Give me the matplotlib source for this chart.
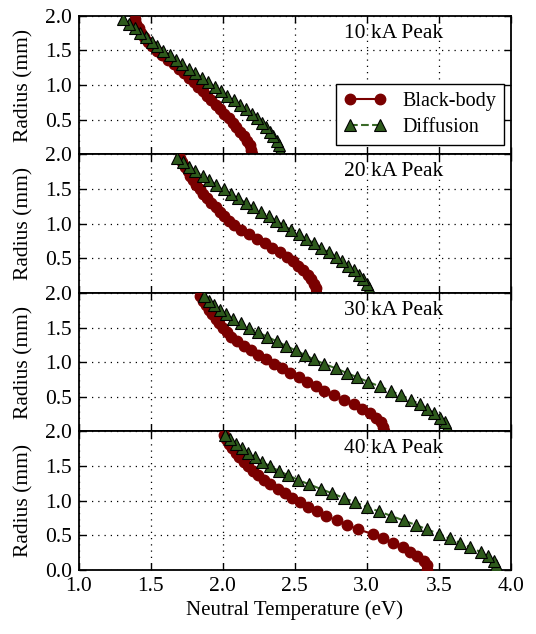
import matplotlib
matplotlib.use("Agg")
import matplotlib.pyplot as plt

plt.rcParams['font.family'] = ['Liberation Serif', 'DejaVu Serif']
plt.rcParams['mathtext.fontset'] = 'stix'

radius = [0.0, 0.065, 0.13, 0.195, 0.26, 0.325, 0.39, 0.455, 0.52, 0.585,
          0.65, 0.715, 0.78, 0.845, 0.91, 0.975, 1.04, 1.105, 1.17, 1.235,
          1.30, 1.365, 1.43, 1.495, 1.56, 1.625, 1.69, 1.755, 1.82, 1.885, 1.95]

panel_titles = ["10 kA Peak", "20 kA Peak", "30 kA Peak", "40 kA Peak"]

bb_10 = [2.20, 2.198, 2.19, 2.17, 2.145, 2.12, 2.095, 2.07, 2.04, 2.01,
         1.98, 1.95, 1.92, 1.89, 1.86, 1.83, 1.80, 1.765, 1.73, 1.695,
         1.66, 1.62, 1.58, 1.545, 1.51, 1.48, 1.455, 1.435, 1.415, 1.40, 1.39]
diff_10 = [2.40, 2.397, 2.39, 2.375, 2.35, 2.325, 2.30, 2.275, 2.24, 2.20,
           2.16, 2.12, 2.075, 2.03, 1.99, 1.945, 1.90, 1.855, 1.81, 1.765,
           1.72, 1.675, 1.63, 1.585, 1.545, 1.505, 1.465, 1.425, 1.39, 1.35, 1.31]

bb_20 = [2.65, 2.645, 2.635, 2.615, 2.59, 2.56, 2.525, 2.485, 2.445, 2.40,
         2.345, 2.29, 2.235, 2.18, 2.125, 2.075, 2.04, 2.01, 1.98, 1.95,
         1.92, 1.89, 1.86, 1.84, 1.815, 1.795, 1.775, 1.755, 1.735, 1.715, 1.70]
diff_20 = [3.02, 3.015, 3.00, 2.975, 2.945, 2.91, 2.87, 2.83, 2.785, 2.735,
           2.685, 2.635, 2.58, 2.53, 2.475, 2.42, 2.37, 2.32, 2.265, 2.21,
           2.16, 2.105, 2.055, 2.005, 1.955, 1.905, 1.86, 1.81, 1.765, 1.725, 1.685]

bb_30 = [3.12, 3.115, 3.10, 3.065, 3.02, 2.97, 2.91, 2.84, 2.77, 2.70,
         2.645, 2.585, 2.53, 2.47, 2.41, 2.355, 2.30, 2.245, 2.195, 2.145,
         2.10, 2.06, 2.03, 2.00, 1.975, 1.95, 1.925, 1.905, 1.88, 1.86, 1.84]
diff_30 = [3.56, 3.555, 3.54, 3.51, 3.47, 3.42, 3.37, 3.31, 3.24, 3.165,
           3.09, 3.01, 2.935, 2.86, 2.785, 2.705, 2.63, 2.57, 2.505, 2.44,
           2.375, 2.31, 2.245, 2.18, 2.125, 2.07, 2.02, 1.98, 1.94, 1.905, 1.87]

bb_40 = [3.42, 3.415, 3.395, 3.35, 3.30, 3.25, 3.18, 3.11, 3.04, 2.94,
         2.865, 2.79, 2.72, 2.655, 2.595, 2.535, 2.48, 2.43, 2.38, 2.33,
         2.285, 2.245, 2.21, 2.175, 2.145, 2.115, 2.09, 2.065, 2.045, 2.025, 2.01]
diff_40 = [3.91, 3.90, 3.88, 3.84, 3.79, 3.72, 3.65, 3.575, 3.50, 3.42,
           3.34, 3.255, 3.17, 3.085, 3.00, 2.92, 2.84, 2.76, 2.68, 2.60,
           2.525, 2.455, 2.39, 2.33, 2.275, 2.225, 2.175, 2.13, 2.09, 2.05, 2.015]

bb_series = [bb_10, bb_20, bb_30, bb_40]
diff_series = [diff_10, diff_20, diff_30, diff_40]

xticks = [1.0, 1.5, 2.0, 2.5, 3.0, 3.5, 4.0]
yticks = [0.0, 0.5, 1.0, 1.5, 2.0]

bb_color = '#7a0000'
diff_fill = '#2e5a1c'
diff_line = '#3a6a28'
FS = 15.5

fig, axes = plt.subplots(4, 1, figsize=(5.36, 6.34), dpi=100, sharex=True)
fig.subplots_adjust(left=0.147, right=0.953, top=0.975, bottom=0.101, hspace=0)

for i, ax in enumerate(axes):
    ax.plot(bb_series[i], radius, '-', color=bb_color, marker='o', markersize=7.5,
            markerfacecolor=bb_color, markeredgecolor=bb_color, lw=1.5,
            label='Black-body', zorder=3)
    ax.plot(diff_series[i], radius, '--', color=diff_line, marker='^', markersize=8,
            markerfacecolor=diff_fill, markeredgecolor='black', markeredgewidth=0.8,
            lw=1.5, label='Diffusion', zorder=4)
    ax.set_xlim(1.0, 4.0)
    ax.set_ylim(0.0, 2.0)
    ax.set_xticks(xticks)
    ax.set_yticks(yticks)
    if i < 3:
        ax.set_yticklabels([''] + ['%.1f' % v for v in yticks[1:]])
    else:
        ax.set_yticklabels(['%.1f' % v for v in yticks])
        ax.set_xticklabels(['%.1f' % v for v in xticks])
    ax.grid(True, color='black', linestyle=(0, (1, 4)), linewidth=0.9)
    ax.set_axisbelow(True)
    ax.tick_params(direction='in', top=True, right=True, labelsize=FS,
                   length=5, width=1.0, pad=5)
    for s in ax.spines.values():
        s.set_linewidth(1.3)
    ax.set_ylabel('Radius (mm)', fontsize=FS, labelpad=8)
    ax.text(0.728, 0.875, panel_titles[i], transform=ax.transAxes,
            fontsize=FS, ha='center', va='center')

axes[-1].set_xlabel('Neutral Temperature (eV)', fontsize=15, labelpad=3)

leg = axes[0].legend(loc='lower right', bbox_to_anchor=(0.985, 0.07),
                     borderaxespad=0, fontsize=14.5, frameon=True, fancybox=False,
                     edgecolor='black', framealpha=1, handlelength=2.1,
                     numpoints=2, labelspacing=0.3, borderpad=0.4,
                     handletextpad=0.8)
leg.get_frame().set_linewidth(1.0)

fig.savefig('out.png', dpi=100)
